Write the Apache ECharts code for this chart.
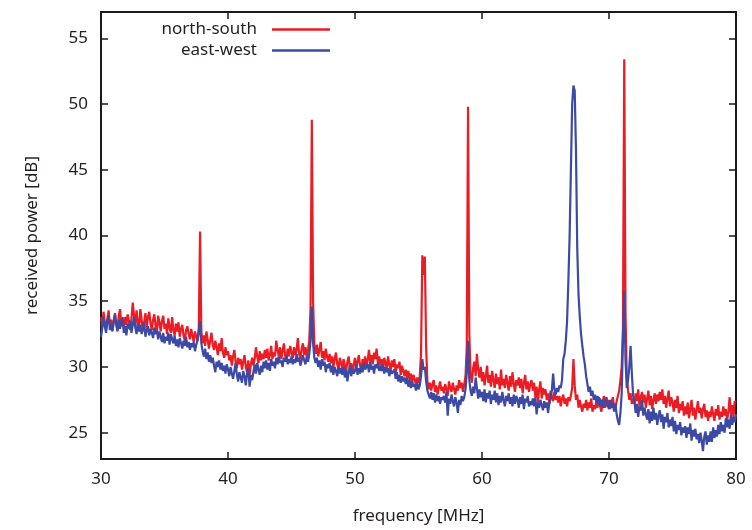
<!DOCTYPE html>
<html>
<head>
<meta charset="utf-8">
<script src="https://cdn.jsdelivr.net/npm/echarts@6/dist/echarts.min.js"></script>
<style>
html,body{margin:0;padding:0;background:#fff;}
#chart{width:752px;height:530px;}
</style>
</head>
<body>
<div id="chart"></div>
<script>
// Sample grid: frequency in MHz (start and step of the measured spectrum)
const FREQ_START = 30;
const FREQ_STEP = 0.1;

// received power [dB], north-south polarisation (one value per 0.1 MHz, 30.0 ... 80.0)
const northSouth = [
  33.8, 33.0, 34.2, 33.4, 32.9, 33.7, 34.3, 33.2, 33.6, 32.8,
  33.5, 34.1, 33.3, 32.7, 33.9, 34.4, 33.1, 33.6, 32.9, 33.8,
  33.2, 34.0, 33.5, 32.8, 33.7, 34.9, 33.9, 33.1, 34.3, 33.4,
  32.9, 34.4, 33.6, 32.7, 33.4, 34.1, 33.0, 33.8, 34.2, 33.3,
  32.8, 33.6, 34.0, 33.1, 32.6, 33.9, 33.4, 32.7, 33.5, 33.9,
  32.9, 33.3, 32.5, 33.7, 33.0, 32.6, 33.8, 32.8, 32.4, 33.3,
  32.7, 33.4, 32.3, 32.9, 33.2, 32.4, 32.0, 32.8, 33.1, 32.5,
  32.1, 32.9, 32.4, 31.9, 32.7, 32.3, 32.0, 33.0, 40.3, 32.7,
  31.8, 32.4, 31.6, 32.7, 32.1, 31.4, 32.0, 32.6, 31.7, 31.3,
  32.0, 31.5, 30.9, 31.8, 31.2, 32.2, 31.1, 30.7, 31.5, 30.9,
  31.2, 30.5, 30.9, 30.1, 30.8, 31.3, 30.4, 29.9, 30.7, 30.2,
  30.6, 29.8, 30.4, 30.9, 30.0, 29.6, 30.5, 29.4, 30.2, 30.7,
  30.1, 30.6, 31.5, 30.8, 30.3, 31.2, 30.5, 31.0, 30.6, 31.3,
  30.7, 31.4, 30.5, 30.9, 31.6, 30.6, 31.1, 30.8, 32.0, 31.3,
  30.8, 31.5, 30.6, 31.2, 31.8, 30.9, 30.5, 31.4, 30.8, 31.6,
  31.1, 30.7, 31.5, 30.9, 31.3, 32.2, 31.0, 30.6, 31.4, 31.8,
  30.9, 31.5, 30.8, 31.3, 32.0, 34.5, 48.8, 35.0, 31.6, 31.0,
  31.7, 30.8, 31.3, 31.9, 30.7, 31.2, 30.5, 31.4, 30.8, 30.4,
  31.0, 30.3, 30.8, 30.0, 30.6, 31.1, 30.2, 29.8, 30.7, 30.3,
  29.8, 30.6, 30.1, 29.6, 30.4, 30.8, 29.9, 30.3, 29.5, 30.2,
  30.7, 29.9, 30.4, 30.9, 30.1, 29.7, 30.6, 30.2, 30.8, 30.0,
  30.5, 31.3, 30.4, 30.9, 30.2, 31.1, 30.6, 31.4, 30.3, 30.8,
  30.1, 30.6, 29.8, 30.7, 30.3, 29.9, 30.8, 30.2, 29.7, 30.5,
  30.0, 30.6, 29.6, 30.2, 29.9, 30.4, 29.4, 30.1, 29.7, 29.3,
  29.8, 29.2, 29.7, 29.0, 29.5, 28.8, 29.4, 29.1, 28.6, 29.2,
  28.8, 29.3, 31.0, 38.5, 37.0, 38.4, 31.5, 28.9, 28.3, 28.8,
  28.2, 28.7, 29.0, 28.1, 28.6, 27.9, 28.4, 28.9, 28.2, 28.5,
  28.0, 28.7, 28.3, 27.8, 28.9, 28.4, 28.1, 28.8, 28.3, 27.9,
  28.6, 28.2, 29.0, 28.4, 28.8, 28.1, 28.7, 29.3, 31.5, 49.8,
  32.5, 29.4, 28.8, 29.9, 30.4, 29.3, 31.0, 29.8, 29.2, 30.0,
  28.9, 29.6, 28.6, 29.3, 30.1, 28.8, 29.4, 28.5, 29.7, 29.0,
  28.4, 29.5, 28.7, 29.2, 28.3, 29.8, 28.6, 29.1, 28.4, 29.4,
  28.8, 28.2, 29.3, 28.5, 29.6, 28.7, 28.1, 29.0, 28.6, 29.2,
  28.4, 29.1, 28.0, 28.8, 29.4, 28.3, 28.9, 28.1, 28.7, 29.0,
  28.2, 28.8, 27.7, 28.5, 27.3, 28.3, 28.9, 27.6, 28.4, 27.9,
  28.3, 27.5, 28.0, 27.2, 28.2, 27.7, 27.4, 28.1, 27.5, 27.8,
  27.3, 27.8, 27.0, 27.6, 27.9, 27.2, 27.6, 27.0, 27.7, 27.4,
  27.8, 28.4, 30.6, 28.6, 27.5, 27.9, 26.9, 27.5, 27.0, 26.6,
  27.2, 26.9, 27.5, 26.7, 27.3, 26.9, 27.6, 26.6, 27.1, 26.8,
  27.4, 26.9, 27.7, 27.0, 26.6, 27.3, 27.8, 26.9, 27.4, 27.0,
  27.5, 26.8, 27.3, 27.7, 27.0, 26.7, 27.4, 27.8, 28.2, 29.0,
  30.0, 33.0, 53.4, 34.0, 29.3, 28.2, 27.5, 28.0, 27.2, 27.6,
  27.2, 28.0, 27.4, 28.3, 27.0, 27.7, 28.1, 27.3, 27.9, 26.9,
  27.6, 28.2, 27.1, 27.8, 26.8, 27.5, 28.0, 27.2, 27.9, 27.4,
  28.1, 27.5, 28.3, 27.2, 27.8, 26.9, 27.6, 28.2, 27.0, 27.7,
  27.3, 26.6, 27.5, 26.9, 27.8, 26.5, 27.2, 26.7, 27.4, 26.3,
  27.0, 26.4, 27.3, 26.1, 26.8, 27.5, 26.3, 26.9, 26.0, 26.7,
  27.4, 26.5, 26.9, 26.1, 26.8, 27.2, 26.2, 26.7, 25.9, 26.6,
  26.2, 27.0, 26.4, 25.9, 26.8, 26.3, 27.1, 26.0, 26.6, 26.2,
  27.0, 26.3, 26.8, 25.9, 26.6, 27.7, 26.4, 27.1, 26.2, 27.4,
  27.3
];

// received power [dB], east-west polarisation
const eastWest = [
  32.3, 33.0, 33.8, 33.1, 32.6, 33.5, 33.9, 32.8, 33.3, 32.7,
  33.4, 34.0, 33.2, 32.8, 33.6, 32.9, 33.4, 33.8, 32.6, 33.1,
  32.4, 33.3, 32.9, 33.5, 32.6, 33.2, 33.8, 33.0, 32.5, 33.3,
  32.7, 33.2, 32.5, 32.9, 33.4, 32.3, 32.8, 33.1, 32.4, 32.9,
  32.6, 32.2, 33.0, 32.5, 32.8, 32.1, 32.7, 32.3, 31.9, 32.6,
  31.8, 32.3, 32.0, 32.6, 31.7, 32.5, 32.1, 31.8, 32.4, 31.6,
  32.1, 31.5, 32.2, 31.8, 31.4, 32.0, 31.6, 32.3, 31.5, 31.9,
  31.3, 31.8, 31.5, 31.9, 31.2, 31.7, 32.0, 32.6, 33.5, 31.8,
  31.2, 30.8, 31.4, 30.6, 31.1, 30.4, 30.9, 30.3, 30.7, 30.1,
  29.6, 30.4, 30.0, 30.5, 29.8, 30.3, 29.7, 30.1, 29.5, 30.2,
  29.8, 29.3, 30.0, 29.5, 29.1, 29.7, 30.3, 29.4, 28.9, 29.6,
  29.2, 28.8, 29.7, 29.3, 28.6, 29.5, 29.9, 28.5, 29.4, 29.0,
  29.6, 30.2, 29.5, 30.3, 29.8, 29.4, 30.1, 29.6, 30.4, 29.9,
  30.5, 29.8, 30.3, 29.7, 30.6, 30.1, 30.4, 29.9, 30.7, 30.2,
  30.8, 30.3, 30.5, 30.0, 30.7, 30.4, 30.9, 30.2, 30.6, 30.3,
  30.8, 30.2, 30.6, 30.3, 31.0, 30.4, 30.7, 30.1, 30.5, 30.9,
  30.5, 30.2, 30.8, 30.4, 31.0, 32.0, 34.6, 31.8, 30.7, 30.3,
  30.7, 30.0, 30.5, 29.8, 30.6, 30.1, 30.4, 29.6, 30.2, 29.9,
  30.3, 29.6, 30.1, 29.4, 30.0, 29.7, 29.3, 30.0, 29.5, 29.9,
  29.4, 30.0, 29.2, 29.8, 28.9, 29.6, 30.1, 29.3, 29.8, 29.5,
  29.7, 30.2, 29.4, 29.9, 29.5, 30.1, 29.6, 30.3, 29.8, 30.0,
  30.2, 29.6, 30.4, 29.8, 30.1, 29.5, 30.2, 29.9, 30.3, 29.7,
  30.1, 29.7, 30.2, 29.5, 30.0, 29.6, 29.9, 29.3, 29.8, 29.5,
  29.4, 29.8, 29.1, 29.6, 28.9, 29.4, 28.8, 29.3, 28.9, 29.2,
  28.7, 29.2, 28.5, 29.0, 28.4, 28.9, 28.5, 28.7, 28.2, 28.8,
  28.3, 28.6, 29.3, 30.6, 29.8, 30.0, 28.9, 28.2, 27.9, 27.6,
  28.1, 27.5, 28.0, 27.3, 27.9, 27.4, 27.8, 27.2, 27.7, 27.5,
  27.8, 27.3, 28.1, 26.3, 27.6, 27.2, 27.9, 27.4, 27.0, 27.7,
  27.3, 26.5, 27.5, 27.1, 27.8, 27.4, 27.7, 28.3, 29.5, 32.0,
  29.0, 28.2, 27.8, 28.5, 28.0, 29.2, 28.4, 27.6, 28.3, 27.7,
  28.1, 27.4, 28.3, 27.3, 28.0, 27.6, 28.2, 27.2, 27.9, 27.5,
  28.2, 27.3, 28.0, 27.1, 27.8, 27.3, 28.1, 27.5, 27.0, 27.8,
  27.4, 28.0, 27.2, 27.7, 27.0, 27.9, 27.2, 27.8, 27.5, 26.9,
  27.7, 27.2, 27.9, 26.8, 27.6, 27.3, 27.8, 27.0, 27.4, 27.1,
  27.6, 27.0, 27.7, 26.4, 27.3, 26.9, 27.5, 27.1, 26.7, 27.4,
  26.9, 27.3, 26.5, 27.2, 27.6, 28.2, 29.5, 28.3, 27.9, 28.4,
  28.1, 28.6, 28.4, 29.0, 30.6, 31.0, 32.0, 33.5, 36.5, 40.0,
  45.0, 50.0, 51.4, 51.0, 46.5, 39.0, 35.5, 33.8, 32.5, 31.6,
  30.8, 30.2, 29.3, 28.7, 28.1, 28.5, 27.8, 28.2, 27.5, 27.9,
  27.3, 27.8, 27.1, 27.6, 27.0, 27.5, 26.9, 27.4, 27.7, 27.1,
  26.8, 27.5, 26.9, 27.3, 26.6, 27.2, 26.4, 25.9, 25.6, 26.5,
  28.0, 32.0, 35.8, 30.5, 28.4, 29.0, 30.0, 31.6, 29.5, 27.8,
  27.4, 26.5, 27.2, 26.2, 27.0, 26.7, 27.5, 26.3, 26.9, 26.4,
  26.0, 26.8, 25.7, 26.6, 25.9, 26.9, 26.0, 26.5, 25.6, 26.3,
  26.7, 25.8, 26.4, 25.3, 26.2, 25.8, 26.5, 25.4, 26.0, 25.5,
  26.2, 25.1, 25.9, 24.9, 25.6, 25.2, 25.8, 24.8, 25.4, 25.0,
  25.5, 24.6, 25.4, 24.9, 25.7, 24.4, 25.2, 24.7, 25.3, 24.5,
  24.9, 24.2, 25.0, 24.4, 23.6, 24.7, 25.1, 24.1, 24.8, 24.3,
  25.1, 24.3, 25.4, 24.6, 25.2, 24.7, 25.6, 24.9, 25.8, 25.1,
  25.6, 25.0, 26.1, 25.4, 26.0, 25.3, 26.4, 25.6, 26.2, 25.8,
  26.4
];

const yTicks = [25, 30, 35, 40, 45, 50, 55];
const seriesNames = ['north-south', 'east-west'];
const seriesColors = ['#ec1c24', '#3c4aa6'];

function pairs(vals) {
  return vals.map((v, i) => [+(FREQ_START + i * FREQ_STEP).toFixed(2), v]);
}

const FONT = 'Noto Sans';
const TXT = '#231f20';

const chart = echarts.init(document.getElementById('chart'), null, {renderer: 'canvas'});
const axisLineStyle = {color: '#1a1a1a', width: 2};
const tickStyle = {color: '#1a1a1a', width: 1.5};

chart.setOption({
  animation: false,
  backgroundColor: '#fff',
  textStyle: {fontFamily: FONT},
  grid: {left: 101, right: 16, top: 12, bottom: 67, containLabel: false},
  legend: [0, 1].map(k => ({
    data: [{name: seriesNames[k], icon: 'rect'}],
    right: 422,
    top: k === 0 ? 21 : 42,
    padding: 0,
    itemWidth: 58,
    itemHeight: 2.5,
    align: 'right',
    selectedMode: false,
    textStyle: {fontFamily: FONT, fontSize: 17, color: TXT, padding: [0, 10, 0, 0]}
  })),
  xAxis: [
    {
      type: 'value', min: 30, max: 80, interval: 10, position: 'bottom',
      name: 'frequency [MHz]', nameLocation: 'middle', nameGap: 49,
      nameTextStyle: {fontFamily: FONT, fontSize: 17, color: TXT},
      axisLine: {show: true, lineStyle: axisLineStyle},
      axisTick: {show: true, inside: true, length: 7, lineStyle: tickStyle},
      axisLabel: {fontFamily: FONT, fontSize: 17, color: TXT, margin: 12},
      splitLine: {show: false}
    },
    {
      type: 'value', min: 30, max: 80, interval: 10, position: 'top',
      axisLine: {show: true, lineStyle: axisLineStyle},
      axisTick: {show: true, inside: true, length: 7, lineStyle: tickStyle},
      axisLabel: {show: false},
      splitLine: {show: false}
    }
  ],
  yAxis: [
    {
      type: 'value', min: 23, max: 57, position: 'left',
      name: 'received power [dB]', nameLocation: 'middle', nameGap: 60,
      nameTextStyle: {fontFamily: FONT, fontSize: 17, color: TXT},
      axisLine: {show: true, lineStyle: axisLineStyle},
      axisTick: {show: true, inside: true, length: 7, lineStyle: tickStyle, customValues: yTicks},
      axisLabel: {fontFamily: FONT, fontSize: 17, color: TXT, margin: 13, customValues: yTicks},
      splitLine: {show: false}
    },
    {
      type: 'value', min: 23, max: 57, position: 'right',
      axisLine: {show: true, lineStyle: axisLineStyle},
      axisTick: {show: true, inside: true, length: 7, lineStyle: tickStyle, customValues: yTicks},
      axisLabel: {show: false, customValues: yTicks},
      splitLine: {show: false}
    }
  ],
  series: [
    {
      name: seriesNames[0], type: 'line', data: pairs(northSouth),
      showSymbol: false, symbol: 'none', color: seriesColors[0],
      lineStyle: {width: 2.2, color: seriesColors[0]}, z: 2
    },
    {
      name: seriesNames[1], type: 'line', data: pairs(eastWest),
      showSymbol: false, symbol: 'none', color: seriesColors[1],
      lineStyle: {width: 2.2, color: seriesColors[1]}, z: 3
    }
  ]
});
</script>
</body>
</html>
